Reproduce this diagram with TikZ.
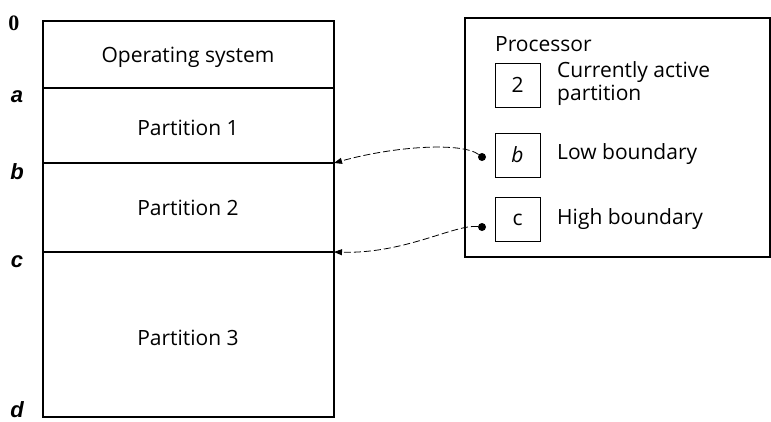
\documentclass[tikz,border=0pt]{standalone}
\usepackage{fontspec}
\setmainfont{Open Sans}
\newfontfamily\boundfont{Liberation Sans}
\newfontfamily\zerofont{Liberation Serif}
\usetikzlibrary{positioning,arrows.meta}

\begin{document}
\begin{tikzpicture}[x=1pt,y=-1pt,
  region/.style={font=\fontsize{21}{24}\selectfont},
  boundlabel/.style={font=\boundfont\bfseries\itshape\fontsize{22}{22}\selectfont},
  register/.style={draw,line width=1pt,minimum width=45pt,minimum height=44pt,
    inner sep=0pt,font=\fontsize{21}{24}\selectfont},
  regtext/.style={anchor=west,align=left,inner sep=0pt,font=\fontsize{21}{23}\selectfont},
  regdot/.style={circle,fill,inner sep=0pt,minimum size=8pt},
  pointer/.style={line width=0.8pt,dash pattern=on 7pt off 3pt,
    -{Triangle[length=8pt,width=6pt]}}]
  \useasboundingbox (0,0) rectangle (771,421);

  % memory
  \draw[line width=1.3pt] (43,21) rectangle (334,417);
  \draw[line width=1.3pt] (43,88) -- (334,88);
  \draw[line width=1.3pt] (43,163) -- (334,163);
  \draw[line width=1.3pt] (43,252) -- (334,252);
  \coordinate (wallb) at (334,163);
  \coordinate (wallc) at (334,252);

  \node[region] (os) at (188,57) {Operating system};
  \node[region] (part1) at (188,128) {Partition 1};
  \node[region] (part2) at (188,208) {Partition 2};
  \node[region] (part3) at (188,338) {Partition 3};

  \node[font=\zerofont\bfseries\fontsize{22}{22}\selectfont] (zero) at (14,23) {0};
  \node[boundlabel] (la) at (17,97) {a};
  \node[boundlabel] (lb) at (17,172) {b};
  \node[boundlabel] (lc) at (17,262) {c};
  \node[boundlabel] (ld) at (17,410) {d};

  % processor
  \draw[line width=1.2pt] (465,18) rectangle (770,257);
  \node[regtext] (proc) at (495,44) {Processor};
  \node[register] (reg2) at (517.5,85) {2};
  \node[register] (regb) at (517.5,155) {\itshape b};
  \node[register] (regc) at (517.5,219.5) {c};
  \node[regtext] (act) at (557,84) {Currently active\\partition};
  \node[regtext] (low) at (557,154) {Low boundary};
  \node[regtext] (high) at (557,219) {High boundary};
  \node[regdot] (dotb) at (482,157) {};
  \node[regdot] (dotc) at (482,227) {};

  \draw[pointer] (dotb) .. controls (462,142) and (395,146) .. (wallb);
  \draw[pointer] (dotc) .. controls (455,224) and (405,254) .. (wallc);
\end{tikzpicture}
\end{document}
